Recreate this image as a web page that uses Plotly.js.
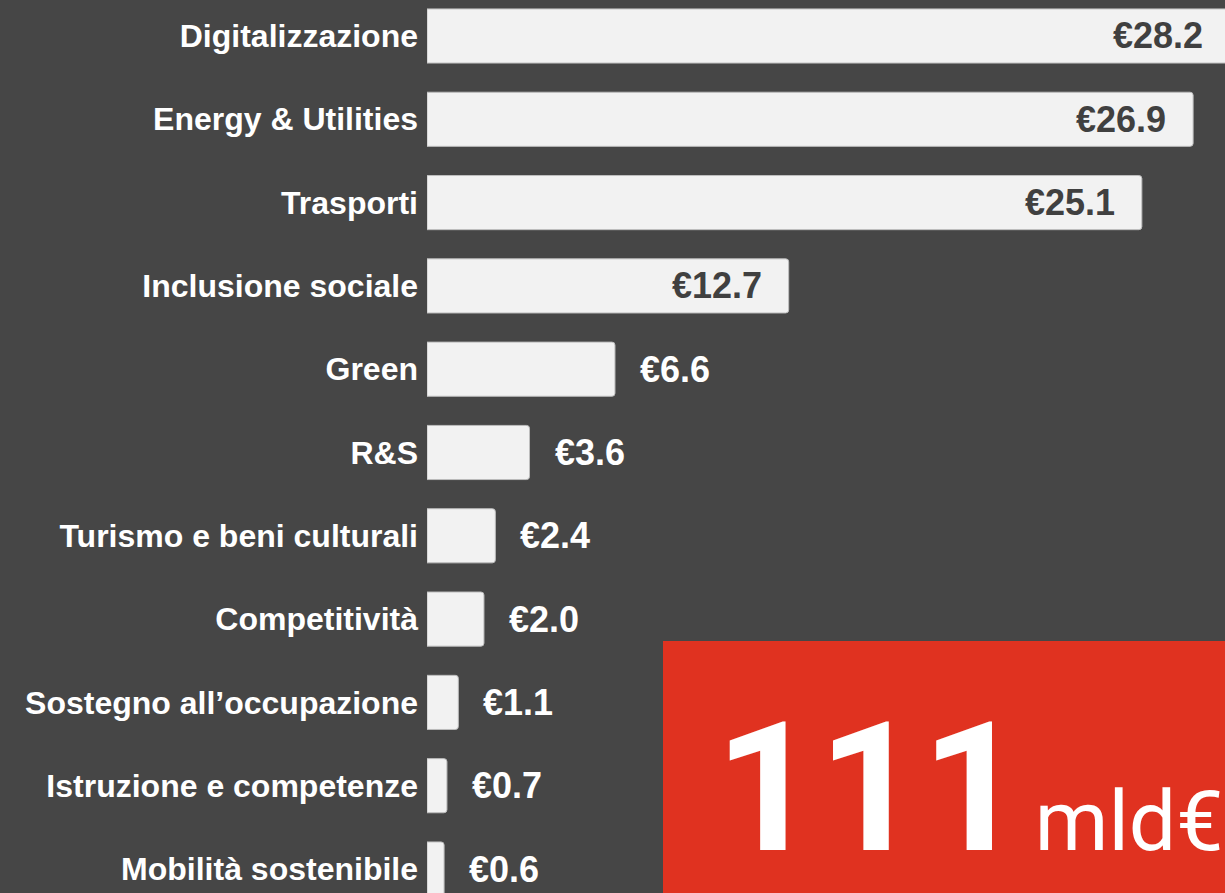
<!DOCTYPE html>
<html>
<head>
<meta charset="utf-8">
<script src="https://cdn.plot.ly/plotly-3.0.1.min.js"></script>
<style>
  html, body { margin:0; padding:0; background:#464646; overflow:hidden; }
  #chart { width:1235px; height:893px; }
</style>
</head>
<body>
<div id="chart"></div>
<script>
const categories = [
  "Digitalizzazione",
  "Energy & Utilities",
  "Trasporti",
  "Inclusione sociale",
  "Green",
  "R&S",
  "Turismo e beni culturali",
  "Competitività",
  "Sostegno all’occupazione",
  "Istruzione e competenze",
  "Mobilità sostenibile"
];
const values = [28.2, 26.9, 25.1, 12.7, 6.6, 3.6, 2.4, 2.0, 1.1, 0.7, 0.6];
const valueLabels = ["€28.2", "€26.9", "€25.1", "€12.7", "€6.6", "€3.6", "€2.4", "€2.0", "€1.1", "€0.7", "€0.6"];
const totalValue = "111";
const totalUnit = "mld€";

const W = 1235, H = 893, L = 427;
const pxPerUnit = 28.48;
const FONT = "Liberation Sans";
const BIGFONT = "Roboto";

const bar = {
  type: 'bar',
  orientation: 'h',
  y: categories,
  x: values,
  width: 0.65,
  marker: { color: '#f2f2f2', line: { color: '#bdbdbd', width: 1 }, cornerradius: 3 },
  hoverinfo: 'none'
};

const annotations = values.map((v, i) => {
  const inside = v > 10;
  return {
    x: v, y: categories[i], xref: 'x', yref: 'y',
    text: valueLabels[i],
    showarrow: false,
    xanchor: inside ? 'right' : 'left',
    xshift: inside ? -25 : 23,
    yshift: 0,
    font: { family: FONT, size: 36, weight: 'bold', color: inside ? '#404040' : '#ffffff' }
  };
});

const px2x = p => (p - L) / (W - L);
const py2y = p => 1 - p / H;

annotations.push({
  xref: 'paper', yref: 'paper',
  x: px2x(713), y: 0,
  xanchor: 'left', yanchor: 'bottom', yshift: -3,
  showarrow: false,
  text: '<b>' + totalValue + '</b><span style="font-size:40px"> </span><span style="font-size:84px">' + totalUnit + '</span>',
  font: { family: BIGFONT, size: 180, color: '#ffffff' }
});

const layout = {
  width: W, height: H,
  margin: { l: L, r: 0, t: 0, b: 0 },
  paper_bgcolor: '#464646',
  plot_bgcolor: '#464646',
  showlegend: false,
  font: { family: FONT },
  xaxis: {
    range: [0, (W - L) / pxPerUnit],
    showgrid: false, zeroline: false, showticklabels: false, showline: false, ticks: ''
  },
  yaxis: {
    type: 'category',
    range: [10.288, -0.432],
    showgrid: false, zeroline: false, showline: false, ticks: '',
    ticklabelstandoff: 8,
    tickfont: { family: FONT, size: 32, weight: 'bold', color: '#ffffff' }
  },
  shapes: [{
    type: 'rect', xref: 'paper', yref: 'paper',
    x0: px2x(663), x1: 1.02, y0: -0.02, y1: py2y(641),
    fillcolor: '#e03220', line: { width: 0 }, layer: 'above'
  }],
  annotations: annotations
};

Plotly.newPlot('chart', [bar], layout, { displayModeBar: false, staticPlot: true });
</script>
</body>
</html>
